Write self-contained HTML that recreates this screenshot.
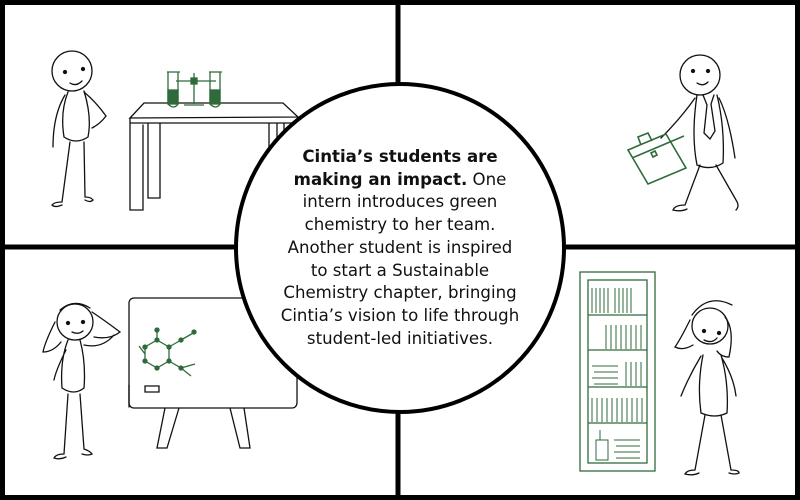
<!DOCTYPE html>
<html><head><meta charset="utf-8"><style>
html,body{margin:0;padding:0;background:#fff}
#w{position:relative;width:800px;height:500px;overflow:hidden}
#t{position:absolute;left:240px;top:146px;width:320px;text-align:center;font-family:"DejaVu Sans","Liberation Sans",sans-serif;font-size:16.6px;line-height:22.7px;color:#111;white-space:nowrap}
</style></head><body><div id="w">
<svg width="800" height="500" viewBox="0 0 800 500" style="position:absolute;left:0;top:0">
<g fill="none" stroke="#000" stroke-width="5">
<rect x="2.5" y="2.5" width="795" height="495"/>
<line x1="398" y1="0" x2="398" y2="500"/>
<line x1="0" y1="247" x2="800" y2="247"/>
</g>
<g fill="none" stroke="#111" stroke-width="1.3" stroke-linecap="round">
<circle cx="72" cy="71" r="20"/><circle cx="65" cy="72" r="1.5" fill="#111"/><circle cx="83" cy="69" r="1.5" fill="#111"/>
<path d="M70 83q6 4 12-2"/>
<path d="M68 92q-8 20-4 45q12 8 24 0q4-20-4-46"/>
<path d="M65 95q-12 20-12 52M84 92q12 10 22 24q-6 8-14 12"/>
<path d="M70 142l-8 60q-8 0-10 3q3 3 10 0M84 142l1 55q6 0 8 3q-3 3-8 0"/>
<path d="M130 118l14-15h139l15 14zM130 118v5h168v-5M130 123v87h13v-85M148 123v75h12v-75M269 123v30M277 123v30M284 123v20"/>
<circle cx="700" cy="75" r="20"/><circle cx="693" cy="71" r="1.5" fill="#111"/><circle cx="708" cy="71" r="1.5" fill="#111"/>
<path d="M697 83q6 4 11-1"/>
<path d="M697 95q-6 40 0 70q14 6 26-2q2-35-6-68"/>
<path d="M695 98q-14 20-34 40M719 98q10 20 16 60"/>
<path d="M700 165l-15 40q-10 0-12 5q8 2 14-1M716 165l20 35q4 6 0 10"/>
<path d="M703 95l4 10l-3 28l6 6l5-8l-4-27l3-9" />
<circle cx="75" cy="322" r="18"/><circle cx="68" cy="323" r="1.5" fill="#111"/><circle cx="83" cy="322" r="1.5" fill="#111"/>
<path d="M72 332q6 3 11-1M55 322q-10 20-12 30q10 0 18-10M92 312q12 8 28 20q-10 8-26 5M60 310q14-12 30-2"/>
<path d="M68 340q-8 20-6 48q12 8 22 0q2-26-4-48M66 350q-10 20-12 30M84 345q18 4 30-10"/>
<path d="M68 394l-4 60q-8 0-10 4q6 2 12-1M80 394l4 55q6 2 8 5q-4 2-10 0"/>
<rect x="129" y="298" width="168" height="110" rx="5"/>
<path d="M145 392h14v-6h-14zM129 385v22M165 408l-8 40h10l12-40M230 408l10 40h10l-6-40"/>
<circle cx="710" cy="326" r="18"/><circle cx="704" cy="331" r="1.5" fill="#111"/><circle cx="719" cy="333" r="1.5" fill="#111"/>
<path d="M704 340q8 4 13-2M690 320q-10 20-15 27q8 4 18-2M725 317q10 12 4 40q-8 0-12-6M692 315q16-22 40-10"/>
<path d="M703 355q-6 30-2 58q14 6 26 0q2-30-6-58M701 356q-12 20-20 40M722 358q12 20 14 38"/>
<path d="M705 415l-10 55q-8 0-10 4q8 2 14-1M721 415l10 55q8 0 8 3q-4 2-10 0"/>
</g>
<g fill="none" stroke="#2f6b3a" stroke-width="1.3">
<path d="M168 72v32q6 6 10 0v-32M210 72v32q6 6 10 0v-32M167 72h13M209 72h13M176 81h40M194 73v31M184 105h20"/>
<rect x="168" y="90" width="10" height="14" fill="#2f6b3a"/><rect x="210" y="90" width="10" height="14" fill="#2f6b3a"/>
<rect x="191" y="78" width="6" height="6" fill="#2f6b3a"/>
<path d="M628 150l38-16l20 34l-38 16zM641 145l-3-8l10-4l4 8M632 158l52-22M651 153l4-2l2 4l-4 2z" stroke-width="1.6"/>
<path d="M157 340l12 7v14l-12 7l-12-7v-14zM169 347l12-7M169 361l12 7l14-4M181 340l14 -8M157 340v-10M145 354l-6-8M181 368l10 8"/>
<g fill="#2f6b3a"><circle cx="157" cy="340" r="2"/><circle cx="169" cy="347" r="2"/><circle cx="169" cy="361" r="2"/><circle cx="157" cy="368" r="2"/><circle cx="145" cy="361" r="2"/><circle cx="145" cy="347" r="2"/><circle cx="181" cy="340" r="2"/><circle cx="181" cy="368" r="2"/><circle cx="194" cy="332" r="2"/><circle cx="157" cy="330" r="2"/></g>
<rect x="580" y="272" width="75" height="199"/>
<rect x="588" y="280" width="59" height="183"/>
<path d="M588 315h59M588 350h59M588 387h59M588 423h59"/>
<g stroke-width="1">
<path d="M592 288v25M596 288v25M600 288v25M604 288v25M608 288v25M615 288v25M619 288v25M623 288v25M627 288v25M631 288v25"/>
<path d="M606 325v24M611 325v24M616 325v24M621 325v24M626 325v24M631 325v24M636 325v24M641 325v24"/>
<path d="M626 362v24M631 362v24M636 362v24M641 362v24M592 366h26M594 372h24M592 378h26M594 384h24"/>
<path d="M592 398v24M597 398v24M602 398v24M607 398v24M612 398v24M617 398v24M622 398v24M627 398v24M632 398v24M637 398v24M642 398v24"/>
<path d="M596 440h12v20h-12zM600 430v10M614 440h26M616 446h24M614 452h26M616 458h24"/>
</g>
</g>
<circle cx="400" cy="248" r="164" fill="#fff" stroke="#000" stroke-width="4"/>
</svg>
<div id="t"><b>Cintia’s students are</b><br><b>making an impact.</b> One<br>intern introduces green<br>chemistry to her team.<br>Another student is inspired<br>to start a Sustainable<br>Chemistry chapter, bringing<br>Cintia’s vision to life through<br>student-led initiatives.</div>
</div></body></html>
